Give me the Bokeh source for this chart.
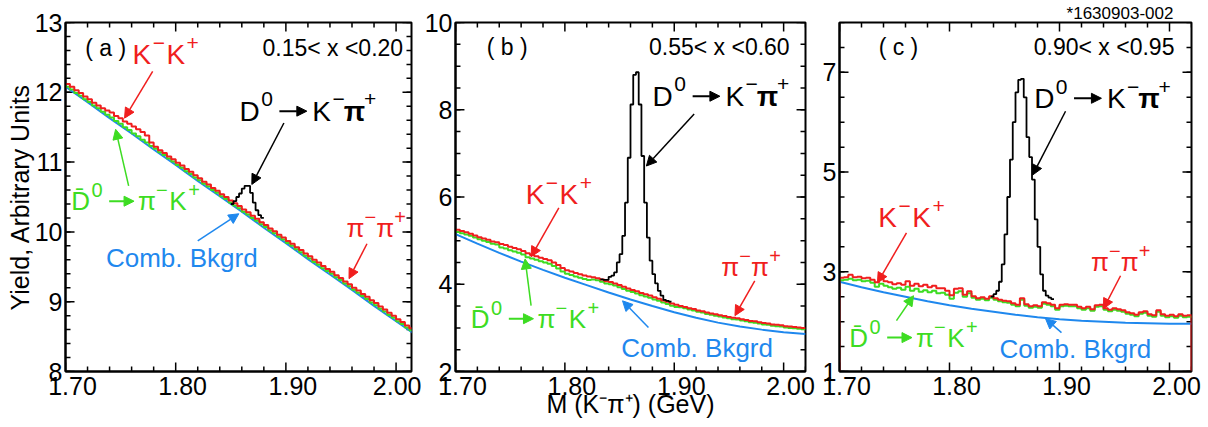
import math
from bokeh.plotting import figure
from bokeh.layouts import row
from bokeh.models import (Range1d, FixedTicker, LinearAxis, Label, Arrow, NormalHead)
from bokeh.embed import file_html
from bokeh.resources import INLINE

FONT = "Liberation Sans"
RED = "#f01e1e"
GREEN = "#3ddc22"
BLUE = "#1f88ee"
BLACK = "#000000"
PX_PER_GEV = 1100.0

# ---------------- data ----------------
COMB_X = [1.70, 1.72, 1.74, 1.76, 1.78, 1.80, 1.82, 1.84, 1.86, 1.88, 1.90,
          1.92, 1.94, 1.96, 1.98, 2.00, 2.02]

# panel (a) 0.15<x<0.20
A_COMB = [12.08, 11.86, 11.63, 11.41, 11.18, 10.96, 10.73, 10.51, 10.29, 10.06,
          9.84, 9.61, 9.39, 9.17, 8.94, 8.72, 8.50]
A_BIN_START, A_BIN_W = 1.70, 0.004
A_GREEN = [12.08, 12.04, 11.99, 11.95, 11.90, 11.86, 11.81, 11.77, 11.72, 11.68,
           11.64, 11.59, 11.55, 11.50, 11.46, 11.41, 11.37, 11.32, 11.28, 11.23,
           11.19, 11.14, 11.10, 11.05, 11.01, 10.96, 10.92, 10.87, 10.83, 10.78,
           10.74, 10.69, 10.65, 10.60, 10.56, 10.51, 10.47, 10.42, 10.38, 10.34,
           10.29, 10.25, 10.20, 10.16, 10.11, 10.07, 10.02, 9.98, 9.93, 9.89,
           9.84, 9.80, 9.75, 9.71, 9.66, 9.62, 9.57, 9.53, 9.48, 9.44,
           9.40, 9.35, 9.31, 9.26, 9.22, 9.17, 9.13, 9.08, 9.04, 8.99,
           8.95, 8.90, 8.86, 8.81, 8.77, 8.72, 8.68, 8.63, 8.59, 8.54]
A_RED = [12.12, 12.08, 12.03, 11.99, 11.94, 11.90, 11.85, 11.81, 11.77, 11.74,
         11.71, 11.66, 11.63, 11.58, 11.55, 11.51, 11.47, 11.43, 11.38, 11.28,
         11.22, 11.17, 11.13, 11.08, 11.04, 10.99, 10.95, 10.90, 10.86, 10.81,
         10.77, 10.72, 10.68, 10.63, 10.59, 10.54, 10.50, 10.45, 10.41, 10.37,
         10.32, 10.28, 10.23, 10.19, 10.14, 10.10, 10.05, 10.01, 9.96, 9.92,
         9.87, 9.83, 9.78, 9.74, 9.69, 9.65, 9.60, 9.56, 9.51, 9.47,
         9.43, 9.38, 9.34, 9.29, 9.25, 9.20, 9.16, 9.11, 9.07, 9.02,
         8.98, 8.93, 8.89, 8.84, 8.80, 8.75, 8.71, 8.66, 8.62, 8.57]
A_PEAK_START, A_PEAK_W = 1.850, 0.0025
A_PEAK = [10.40, 10.44, 10.50, 10.55, 10.62, 10.66, 10.66, 10.56, 10.42, 10.31,
          10.24, 10.20]

# panel (b) 0.55<x<0.60
B_COMB = [5.15, 4.93, 4.72, 4.52, 4.33, 4.15, 3.98, 3.81, 3.65, 3.50, 3.36,
          3.23, 3.12, 3.03, 2.96, 2.90, 2.86]
B_BIN_START, B_BIN_W = 1.70, 0.004
B_RED = [5.25, 5.22, 5.19, 5.16, 5.12, 5.08, 5.05, 5.02, 4.98, 4.96,
         4.92, 4.90, 4.86, 4.83, 4.80, 4.76, 4.71, 4.67, 4.64, 4.61,
         4.58, 4.55, 4.50, 4.44, 4.37, 4.32, 4.29, 4.26, 4.23, 4.20,
         4.18, 4.16, 4.14, 4.11, 4.07, 4.05, 4.02, 3.98, 3.94, 3.90,
         3.87, 3.84, 3.80, 3.77, 3.74, 3.70, 3.67, 3.63, 3.60, 3.56,
         3.53, 3.50, 3.48, 3.45, 3.43, 3.40, 3.38, 3.35, 3.33, 3.31,
         3.29, 3.27, 3.25, 3.23, 3.22, 3.20, 3.18, 3.16, 3.15, 3.13,
         3.11, 3.10, 3.08, 3.07, 3.06, 3.04, 3.03, 3.02, 3.01, 3.00]
B_GREEN = [5.20, 5.17, 5.14, 5.11, 5.07, 5.03, 5.00, 4.97, 4.93, 4.91,
           4.84, 4.82, 4.78, 4.75, 4.72, 4.68, 4.62, 4.59, 4.56, 4.53,
           4.50, 4.47, 4.42, 4.36, 4.29, 4.24, 4.21, 4.18, 4.15, 4.12,
           4.10, 4.11, 4.09, 4.06, 4.02, 4.00, 3.97, 3.93, 3.89, 3.85,
           3.82, 3.79, 3.75, 3.72, 3.69, 3.65, 3.62, 3.58, 3.55, 3.51,
           3.48, 3.47, 3.45, 3.42, 3.40, 3.37, 3.35, 3.32, 3.30, 3.28,
           3.26, 3.24, 3.22, 3.20, 3.19, 3.17, 3.15, 3.13, 3.12, 3.10,
           3.08, 3.07, 3.05, 3.04, 3.03, 3.01, 3.00, 2.99, 2.98, 2.97]
B_PEAK_START, B_PEAK_W = 1.8325, 0.0025
B_PEAK = [4.11, 4.10, 4.10, 4.17, 4.20, 4.27, 4.50, 4.69, 5.11, 5.87,
          6.90, 8.12, 8.80, 8.86, 8.12, 6.94, 5.87, 5.07, 4.54, 4.23,
          4.02, 3.85, 3.74, 3.64, 3.62, 3.60]

# panel (c) 0.90<x<0.95
C_COMB = [2.80, 2.69, 2.59, 2.50, 2.41, 2.33, 2.26, 2.20, 2.14, 2.09, 2.05,
          2.02, 2.00, 1.98, 1.97, 1.96, 1.96]
C_BIN_START, C_BIN_W = 1.70, 0.004
C_RED = [2.88, 2.89, 2.94, 2.89, 2.90, 2.87, 2.88, 2.84, 2.79, 2.86,
         2.81, 2.79, 2.75, 2.77, 2.74, 2.81, 2.72, 2.76, 2.71, 2.74,
         2.69, 2.72, 2.67, 2.67, 2.62, 2.53, 2.66,
         2.67, 2.54, 2.61, 2.51, 2.47, 2.49, 2.46, 2.51, 2.47, 2.44,
         2.42, 2.41, 2.37, 2.34, 2.47, 2.35, 2.31, 2.33, 2.31, 2.39,
         2.37, 2.34, 2.27, 2.34, 2.35, 2.34,
         2.34, 2.30, 2.27, 2.30, 2.25, 2.33, 2.34, 2.27, 2.24, 2.27,
         2.25, 2.23, 2.19, 2.17, 2.14, 2.19, 2.21, 2.15, 2.13, 2.23,
         2.15, 2.12, 2.14, 2.11, 2.15, 2.12, 2.13]
C_GREEN = [2.83, 2.84, 2.86, 2.83, 2.84, 2.81, 2.82, 2.78, 2.70, 2.76,
           2.72, 2.69, 2.66, 2.68, 2.64, 2.70, 2.62, 2.66, 2.60, 2.63,
           2.59, 2.62, 2.57, 2.58, 2.54, 2.46, 2.58,
           2.61, 2.50, 2.57, 2.48, 2.44, 2.46, 2.43, 2.48, 2.44, 2.41,
           2.39, 2.38, 2.34, 2.31, 2.44, 2.32, 2.28, 2.30, 2.28, 2.36,
           2.34, 2.31, 2.24, 2.31, 2.32, 2.31,
           2.31, 2.27, 2.24, 2.27, 2.22, 2.30, 2.31, 2.24, 2.21, 2.24,
           2.22, 2.20, 2.16, 2.14, 2.11, 2.16, 2.18, 2.12, 2.10, 2.20,
           2.12, 2.09, 2.11, 2.08, 2.12, 2.09, 2.10]
C_PEAK_START, C_PEAK_W = 1.8375, 0.0025
C_PEAK = [2.50, 2.55, 2.62, 2.80, 3.15, 3.75, 4.50, 5.25, 6.00, 6.60,
          6.85, 6.87, 6.50, 5.70, 5.30, 4.85, 4.05, 3.50, 2.95, 2.62,
          2.52, 2.48, 2.45]

X_MAJOR = [1.70, 1.80, 1.90, 2.00]
X_LABELS = ["1.70", "1.80", "1.90", "2.00"]
X_MINOR = [1.72, 1.74, 1.76, 1.78, 1.82, 1.84, 1.86, 1.88,
           1.92, 1.94, 1.96, 1.98, 2.02]
A_YMAJOR = [8, 9, 10, 11, 12, 13]
B_YMAJOR = [2, 4, 6, 8, 10]
C_YMAJOR = [1, 3, 5, 7]

RANGE_TEXT = ["0.15< x <0.20", "0.55< x <0.60", "0.90< x <0.95"]
PANEL_TEXT = ["( a )", "( b )", "( c )"]
Y_TITLE = "Yield, Arbitrary Units"
X_TITLE = "M (K\u207b\u03c0\u207a) (GeV)"
STAMP = "*1630903-002"
STAMP_AT = 1.955
COMB = "Comb. Bkgrd"
MINUS, PLUS, PI, ARROW = "\u2212", "+", "\u03c0", "\u2192"
# formula pieces: (text, superscript?, bold?)
KK = [("K", 0, 0), (MINUS, 1, 0), ("K", 0, 0), (PLUS, 1, 0)]
PIPI = [(PI, 0, 0), (MINUS, 1, 0), (PI, 0, 0), (PLUS, 1, 0)]
DKPI = [("D", 0, 0), ("0", 1, 0), (ARROW, 0, 0), ("K", 0, 0), (MINUS, 1, 0),
        (PI, 0, 1), (PLUS, 1, 0)]
DBAR = [("D\u0304", 0, 0), ("0", 1, 0), (ARROW, 0, 0), (PI, 0, 0), (MINUS, 1, 0),
        ("K", 0, 0), (PLUS, 1, 0)]
CHAR_W = {"K": 0.667, "D": 0.722, PI: 0.58, "0": 0.556, MINUS: 0.584,
          PLUS: 0.584, ARROW: 1.3}

LABEL_SHIFT_PX = 7   # x tick labels sit slightly right of their ticks
MAJ_LEN, MIN_LEN = 9, 5


def steps(x0, w, vals, close=False):
    xs, ys = [], []
    for i, v in enumerate(vals):
        xs += [x0 + i * w, x0 + (i + 1) * w]
        ys += [v, v]
    if close:
        xs = [x0] + xs + [x0 + len(vals) * w]
        ys = [0] + ys + [0]
    return xs, ys


def frame_ticks(p, xr, yr, ymaj, ymin, ppy):
    x0, x1 = xr
    y0, y1 = yr
    sx0, sy0, sx1, sy1 = [], [], [], []
    for xs, ln in ((X_MAJOR, MAJ_LEN), (X_MINOR, MIN_LEN)):
        for x in xs:
            if x0 <= x <= x1:
                sx0 += [x, x]; sx1 += [x, x]
                sy0 += [y0, y1]; sy1 += [y0 + ln / ppy, y1 - ln / ppy]
    for ys, ln in ((ymaj, MAJ_LEN), (ymin, MIN_LEN)):
        for y in ys:
            sy0 += [y, y]; sy1 += [y, y]
            sx0 += [x0, x1]; sx1 += [x0 + ln / PX_PER_GEV, x1 - ln / PX_PER_GEV]
    p.segment(x0=sx0, y0=sy0, x1=sx1, y1=sy1, line_color="black", line_width=1.5)


def panel(width, left, right, xr, yr, yticks, yminor, ppy):
    p = figure(width=width, height=427, x_range=Range1d(*xr), y_range=Range1d(*yr),
               output_backend="svg", toolbar_location=None,
               min_border_left=left, min_border_right=right,
               min_border_top=21, min_border_bottom=56)
    p.xgrid.visible = False
    p.ygrid.visible = False
    p.outline_line_color = "black"
    p.outline_line_width = 2
    p.outline_line_alpha = 1
    lab_pos = [t + LABEL_SHIFT_PX / PX_PER_GEV for t in X_MAJOR]
    p.xaxis.ticker = FixedTicker(ticks=lab_pos, minor_ticks=[])
    p.xaxis.major_label_overrides = dict(zip(lab_pos, X_LABELS))
    p.yaxis.ticker = FixedTicker(ticks=yticks, minor_ticks=[])
    p.yaxis.major_label_overrides = {t: str(t) for t in yticks}
    for ax in p.axis:
        ax.axis_line_color = "black"
        ax.axis_line_width = 2
        ax.major_tick_in = 0
        ax.major_tick_out = 0
        ax.minor_tick_in = 0
        ax.minor_tick_out = 0
        ax.major_tick_line_color = None
        ax.minor_tick_line_color = None
        ax.major_label_text_font = FONT
        ax.major_label_text_font_size = "25px"
        ax.major_label_text_color = "black"
        ax.axis_label_text_font = FONT
        ax.axis_label_text_font_style = "normal"
        ax.axis_label_text_color = "black"
    p.xaxis.major_label_standoff = 5
    p.yaxis.major_label_standoff = 3
    frame_ticks(p, xr, yr, yticks, yminor, ppy)
    return p


def draw(p, bin_start, bin_w, green, red, pk_start, pk_w, peak, comb, close_red=False):
    p.line(COMB_X, comb, line_color=BLUE, line_width=2)
    gx, gy = steps(bin_start, bin_w, green)
    p.line(gx, gy, line_color=GREEN, line_width=2)
    rx, ry = steps(bin_start, bin_w, red, close=close_red)
    p.line(rx, ry, line_color=RED, line_width=2)
    kx, ky = steps(pk_start, pk_w, peak)
    p.line(kx, ky, line_color=BLACK, line_width=1.8)


def label(p, x, y, text, color=BLACK, size=25, align="center"):
    p.add_layout(Label(x=x, y=y, text=text, text_font=FONT, text_font_size=f"{size}px",
                       text_color=color, text_align=align, text_baseline="middle"))


def arrow(p, x0, y0, x1, y1, color, head=10, width=1.5):
    p.add_layout(Arrow(x_start=x0, y_start=y0, x_end=x1, y_end=y1,
                       line_color=color, line_width=width,
                       end=NormalHead(size=head, fill_color=color, line_color=color)))


def formula(p, x, y, segs, color, size, sup):
    widths = []
    for t, s, b in segs:
        f = sup if s else size
        widths.append(sum(CHAR_W.get(ch, 0.0) for ch in t) * f)
    gap = 1.5
    total = sum(widths) + gap * (len(segs) - 1)
    cur = -total / 2
    for (t, s, b), w in zip(segs, widths):
        f = sup if s else size
        if t == ARROW:
            xa = x + (cur + 5) / PX_PER_GEV
            xb = x + (cur + w - 4) / PX_PER_GEV
            arrow(p, xa, y, xb, y, color, head=10, width=2)
        else:
            p.add_layout(Label(x=x, y=y, x_offset=cur + w / 2,
                               y_offset=(0.42 * size if s else 0), text=t,
                               text_font=FONT, text_font_size=f"{f}px",
                               text_font_style=("bold" if b else "normal"),
                               text_color=color, text_align="center",
                               text_baseline="middle"))
        cur += w + gap


# ---------- panel a ----------
pa = panel(421, 65, 10, (1.70, 2.014), (8, 13), A_YMAJOR,
           [8 + 0.2 * i for i in range(26)], 70.0)
draw(pa, A_BIN_START, A_BIN_W, A_GREEN, A_RED, A_PEAK_START, A_PEAK_W, A_PEAK, A_COMB)
pa.left[0].axis_label = Y_TITLE
pa.left[0].axis_label_text_font_size = "25px"
pa.left[0].axis_label_standoff = -2
label(pa, 1.7364, 12.64, PANEL_TEXT[0], size=23)
label(pa, 2.0064, 12.64, RANGE_TEXT[0], size=23, align="right")
formula(pa, 1.7909, 12.54, KK, RED, 28, 21)
arrow(pa, 1.7791, 12.30, 1.7536, 11.63, RED)
formula(pa, 1.9200, 11.73, DKPI, BLACK, 28, 21)
arrow(pa, 1.8982, 11.56, 1.8691, 10.68, BLACK)
formula(pa, 1.7636, 10.44, DBAR, GREEN, 26, 20)
arrow(pa, 1.7573, 10.66, 1.7455, 11.47, GREEN)
label(pa, 1.8055, 9.63, COMB, BLUE, size=26)
arrow(pa, 1.8200, 9.87, 1.8573, 10.26, BLUE)
formula(pa, 1.9827, 10.06, PIPI, RED, 26, 20)
arrow(pa, 1.9736, 9.83, 1.9573, 9.33, RED)

# ---------- panel b ----------
pb = panel(394, 32, 10, (1.70, 2.02), (2, 10), B_YMAJOR,
           [2 + 0.5 * i for i in range(17)], 43.75)
draw(pb, B_BIN_START, B_BIN_W, B_GREEN, B_RED, B_PEAK_START, B_PEAK_W, B_PEAK, B_COMB)
pb.below[0].axis_label = X_TITLE
pb.below[0].axis_label_text_font_size = "25px"
pb.below[0].axis_label_standoff = -8
label(pb, 1.7473, 9.43, PANEL_TEXT[1], size=23)
label(pb, 2.0055, 9.43, RANGE_TEXT[1], size=23, align="right")
formula(pb, 1.9427, 8.31, DKPI, BLACK, 28, 21)
arrow(pb, 1.9182, 7.90, 1.8745, 6.71, BLACK)
formula(pb, 1.7945, 6.05, KK, RED, 28, 21)
arrow(pb, 1.7945, 5.75, 1.7691, 4.63, RED)
formula(pb, 1.7727, 3.21, DBAR, GREEN, 26, 20)
arrow(pb, 1.7691, 3.51, 1.7636, 4.58, GREEN)
label(pb, 1.9209, 2.55, COMB, BLUE, size=26)
arrow(pb, 1.8764, 3.01, 1.8527, 3.62, BLUE)
formula(pb, 1.9709, 4.40, PIPI, RED, 26, 20)
arrow(pb, 1.9736, 4.08, 1.9555, 3.28, RED)

# ---------- panel c ----------
pc = panel(392, 24, 16, (1.70, 2.02), (1, 8), C_YMAJOR,
           [1 + 0.5 * i for i in range(15)], 50.0)
draw(pc, C_BIN_START, C_BIN_W, C_GREEN, C_RED, C_PEAK_START, C_PEAK_W, C_PEAK, C_COMB,
     close_red=True)
stamp_axis = LinearAxis(ticker=FixedTicker(ticks=[STAMP_AT], minor_ticks=[]),
                        major_label_overrides={STAMP_AT: STAMP},
                        major_label_text_font=FONT, major_label_text_font_size="17px",
                        major_label_text_color="black", major_label_standoff=0,
                        major_tick_in=0, major_tick_out=0, minor_tick_in=0,
                        minor_tick_out=0, axis_line_color=None,
                        major_tick_line_color=None, minor_tick_line_color=None)
pc.add_layout(stamp_axis, "above")
label(pc, 1.7536, 7.5, PANEL_TEXT[2], size=23)
label(pc, 2.0045, 7.5, RANGE_TEXT[2], size=23, align="right")
formula(pc, 1.9391, 6.48, DKPI, BLACK, 28, 21)
arrow(pc, 1.9055, 6.22, 1.8755, 4.94, BLACK)
formula(pc, 1.7655, 4.08, KK, RED, 28, 21)
arrow(pc, 1.7609, 3.78, 1.7345, 2.78, RED)
formula(pc, 1.7673, 1.68, DBAR, GREEN, 26, 20)
arrow(pc, 1.7518, 2.02, 1.7673, 2.52, GREEN)
label(pc, 1.9145, 1.46, COMB, BLUE, size=26)
arrow(pc, 1.9018, 1.78, 1.8873, 2.06, BLUE)
formula(pc, 1.9564, 3.20, PIPI, RED, 26, 20)
arrow(pc, 1.9555, 2.92, 1.9400, 2.26, RED)

layout = row(pa, pb, pc)
open("out.html", "w").write(file_html(layout, INLINE, title="D0 mass spectra"))
